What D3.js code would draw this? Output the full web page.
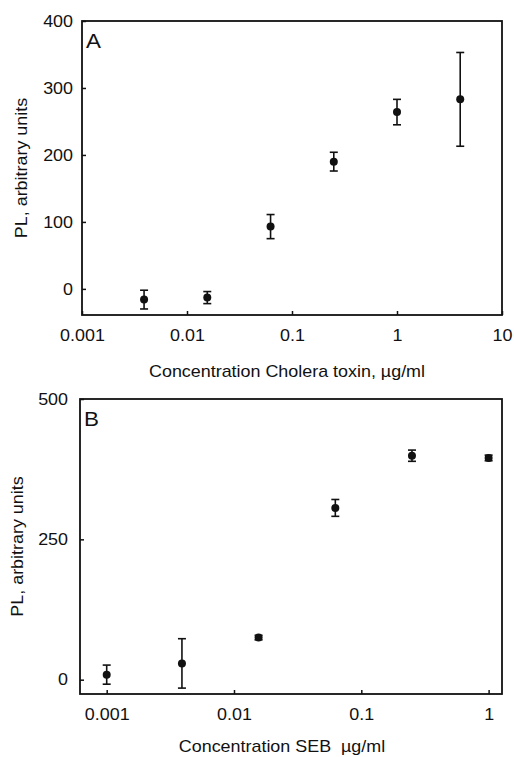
<!DOCTYPE html>
<html>
<head>
<meta charset="utf-8">
<script src="https://cdn.jsdelivr.net/npm/d3@7"></script>
<style>
  body { margin: 0; background: #fff; }
  svg text { font-family: "Liberation Sans", Arial, Helvetica, sans-serif; fill: #111; }
</style>
</head>
<body>
<div id="chart"></div>
<script>
// panel A: cholera toxin
var concA = [0.0039, 0.0156, 0.0625, 0.25, 1, 4];
var plA = [-16, -13, 93, 190, 264, 283];
var errA = [14, 9, 18, 14, 19, 70];
var xTicksA = [0.001, 0.01, 0.1, 1, 10];
var yTicksA = [0, 100, 200, 300, 400];

// panel B: SEB
var concB = [0.001, 0.0039, 0.0156, 0.0625, 0.25, 1];
var plB = [9, 29, 75, 306, 399, 395];
var errB = [17, 44, 4, 15, 10, 5];
var xTicksB = [0.001, 0.01, 0.1, 1];
var yTicksB = [0, 250, 500];

var width = 514, height = 757;
var fs = 16, sx = 1.12;   // the scanned lettering is a bit wide

var svg = d3.select('#chart')
  .append('svg')
  .attr('width', width)
  .attr('height', height);

function label(g, x, y, rot, size, txt, anchor) {
  g.append('g')
    .attr('transform', 'translate(' + x + ',' + y + ')' + (rot ? ' rotate(' + rot + ')' : ''))
    .append('text')
    .attr('transform', 'scale(' + sx + ',1)')
    .attr('text-anchor', anchor || 'middle')
    .attr('font-size', size)
    .text(txt);
}

function panel(opt) {
  var x = d3.scaleLog().domain(opt.xDomain).range([opt.left, opt.right]);
  var y = d3.scaleLinear().domain(opt.yDomain).range([opt.bottom, opt.top]);
  var g = svg.append('g');

  // frame
  g.append('rect')
    .attr('x', opt.left).attr('y', opt.top)
    .attr('width', opt.right - opt.left)
    .attr('height', opt.bottom - opt.top)
    .attr('fill', 'none')
    .attr('stroke', '#111')
    .attr('stroke-width', 1.8);

  // x axis, ticks pointing in
  var xAxis = d3.axisBottom(x)
    .tickValues(opt.xTicks)
    .tickSizeInner(-4).tickSizeOuter(0)
    .tickPadding(12)
    .tickFormat(function (d) { return String(d); });
  var gx = g.append('g')
    .attr('transform', 'translate(0,' + opt.bottom + ')')
    .call(xAxis);
  gx.select('.domain').remove();
  gx.selectAll('line').attr('stroke', '#111').attr('stroke-width', 1.5);
  gx.selectAll('text').attr('font-size', fs).attr('dy', '0.9em')
    .attr('transform', 'scale(' + sx + ',1)');

  var yAxis = d3.axisLeft(y)
    .tickValues(opt.yTicks)
    .tickSizeInner(-4).tickSizeOuter(0)
    .tickPadding(opt.yPad / sx);
  var gy = g.append('g')
    .attr('transform', 'translate(' + opt.left + ',0)')
    .call(yAxis);
  gy.select('.domain').remove();
  gy.selectAll('line').attr('stroke', '#111').attr('stroke-width', 1.5);
  gy.selectAll('text').attr('font-size', fs)
    .attr('transform', 'scale(' + sx + ',1)');

  // axis titles
  label(g, (opt.left + opt.right) / 2 + opt.xTitleDx, opt.xTitleY, 0, fs, opt.xTitle);
  label(g, opt.yTitleX, (opt.top + opt.bottom) / 2, -90, fs, 'PL, arbitrary units');

  // panel letter
  label(g, opt.left + 4, opt.top + 27, 0, 20, opt.letter, 'start');

  var pts = opt.conc.map(function (c, i) {
    return { c: c, v: opt.vals[i], e: opt.errs[i] };
  });

  // error bars
  var eb = g.selectAll('.eb').data(pts).enter().append('g')
    .attr('stroke', '#111').attr('stroke-width', 1.6);
  eb.append('line')
    .attr('x1', function (d) { return x(d.c); })
    .attr('x2', function (d) { return x(d.c); })
    .attr('y1', function (d) { return y(d.v - d.e); })
    .attr('y2', function (d) { return y(d.v + d.e); });
  eb.append('line')
    .attr('x1', function (d) { return x(d.c) - 4; })
    .attr('x2', function (d) { return x(d.c) + 4; })
    .attr('y1', function (d) { return y(d.v + d.e); })
    .attr('y2', function (d) { return y(d.v + d.e); });
  eb.append('line')
    .attr('x1', function (d) { return x(d.c) - 4; })
    .attr('x2', function (d) { return x(d.c) + 4; })
    .attr('y1', function (d) { return y(d.v - d.e); })
    .attr('y2', function (d) { return y(d.v - d.e); });

  g.selectAll('circle').data(pts).enter().append('circle')
    .attr('cx', function (d) { return x(d.c); })
    .attr('cy', function (d) { return y(d.v); })
    .attr('r', 4)
    .attr('fill', '#111');
}

panel({
  conc: concA, vals: plA, errs: errA,
  xTicks: xTicksA, yTicks: yTicksA,
  xDomain: [0.001, 10], yDomain: [-39, 400],
  left: 82, right: 502, top: 21, bottom: 315,
  yPad: 9, yTitleX: 27, xTitleY: 377, xTitleDx: -5,
  xTitle: 'Concentration Cholera toxin, \u00b5g/ml', letter: 'A'
});

panel({
  conc: concB, vals: plB, errs: errB,
  xTicks: xTicksB, yTicks: yTicksB,
  xDomain: [0.000617, 1.274], yDomain: [-25.5, 500],
  left: 80, right: 502, top: 399, bottom: 694,
  yPad: 12, yTitleX: 23, xTitleY: 752, xTitleDx: -9,
  xTitle: 'Concentration SEB \u00a0\u00b5g/ml', letter: 'B'
});
</script>
</body>
</html>
